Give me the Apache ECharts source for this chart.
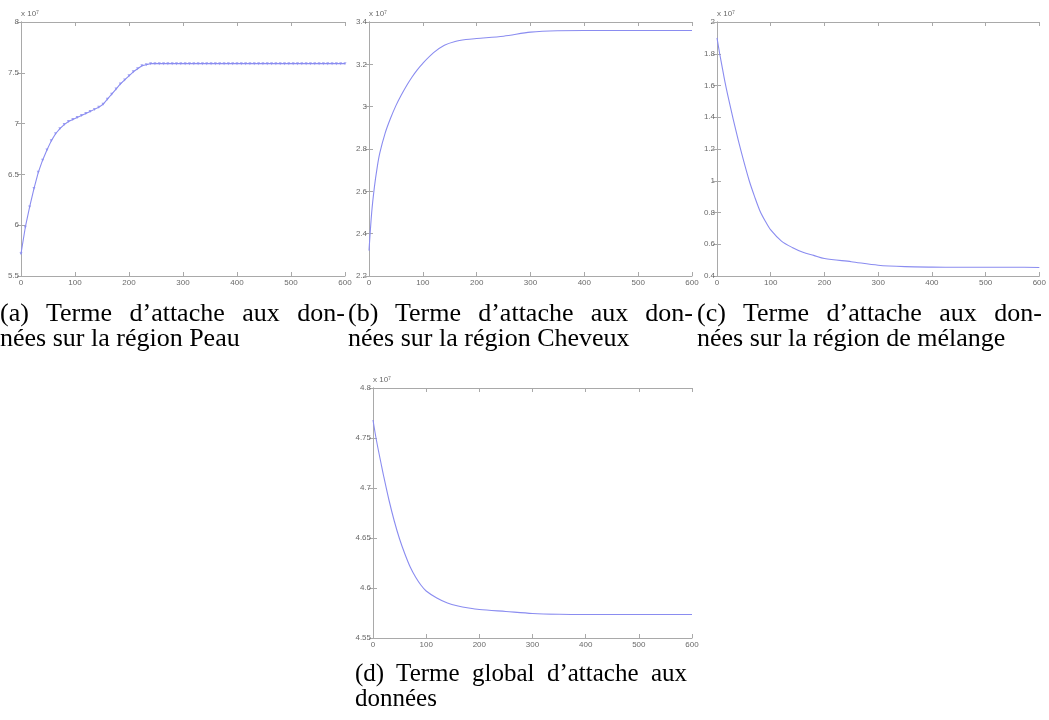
<!DOCTYPE html>
<html>
<head>
<meta charset="utf-8">
<title>Termes d'attache aux données</title>
<script src="https://cdn.jsdelivr.net/npm/echarts@6/dist/echarts.min.js"></script>
<style>
	body { margin: 0; background: #fff; }
	#main { position: absolute; left: 0; top: 0; width: 1049px; height: 720px; }
	.cap { position: absolute; font-family: "Liberation Serif", serif; font-size: 26px; line-height: 25px; color: #000; }
	.cap .l1 { text-align: justify; text-align-last: justify; }
</style>
</head>
<body>
<div id="main"></div>
<div class="cap" style="left:0px;top:300px;width:345px">
	<div class="l1">(a) Terme d’attache aux don-</div>
	<div>nées sur la région Peau</div>
</div>
<div class="cap" style="left:348px;top:300px;width:345px">
	<div class="l1">(b) Terme d’attache aux don-</div>
	<div>nées sur la région Cheveux</div>
</div>
<div class="cap" style="left:697px;top:300px;width:345px">
	<div class="l1">(c) Terme d’attache aux don-</div>
	<div>nées sur la région de mélange</div>
</div>
<div class="cap" style="left:355px;top:660px;width:332px;font-size:25px">
	<div class="l1">(d) Terme global d’attache aux</div>
	<div>données</div>
</div>
<script>
	// (a) region Peau, one sample every 8 iterations (x 10^7)
	var stepA = 8;
	var peau = [5.72, 5.98, 6.18, 6.36, 6.52, 6.64, 6.74, 6.83, 6.90, 6.95,
		6.99, 7.02, 7.04, 7.06, 7.08, 7.10, 7.12, 7.14, 7.16, 7.19,
		7.24, 7.29, 7.34, 7.39, 7.43, 7.47, 7.51, 7.54, 7.57, 7.58,
		7.59, 7.59, 7.59, 7.59, 7.59, 7.59, 7.59, 7.59, 7.59, 7.59,
		7.59, 7.59, 7.59, 7.59, 7.59, 7.59, 7.59, 7.59, 7.59, 7.59,
		7.59, 7.59, 7.59, 7.59, 7.59, 7.59, 7.59, 7.59, 7.59, 7.59,
		7.59, 7.59, 7.59, 7.59, 7.59, 7.59, 7.59, 7.59, 7.59, 7.59,
		7.59, 7.59, 7.59, 7.59, 7.59, 7.59];

	// iterations read for (b), (c), (d)
	var iters = [0, 5, 10, 15, 20, 30, 40, 50, 60, 70, 80, 90, 100, 120, 140, 160, 180, 200, 250, 300, 350, 400, 450, 500, 550, 600];
	// (b) region Cheveux
	var cheveux = [2.32, 2.50, 2.62, 2.71, 2.78, 2.875, 2.945, 3.005, 3.055, 3.10, 3.14, 3.175, 3.205, 3.255, 3.29, 3.308, 3.317, 3.322, 3.333, 3.352, 3.359, 3.36, 3.36, 3.36, 3.36, 3.36];
	// (c) region de melange
	var melange = [1.90, 1.80, 1.71, 1.62, 1.54, 1.39, 1.25, 1.12, 1.00, 0.90, 0.81, 0.745, 0.69, 0.62, 0.58, 0.55, 0.53, 0.51, 0.49, 0.468, 0.459, 0.456, 0.455, 0.455, 0.455, 0.454];
	// (d) terme global
	var globalT = [4.768, 4.752, 4.738, 4.725, 4.712, 4.688, 4.667, 4.649, 4.634, 4.621, 4.611, 4.603, 4.597, 4.590, 4.585, 4.582, 4.580, 4.5785, 4.5765, 4.5745, 4.5737, 4.5735, 4.5735, 4.5735, 4.5735, 4.5735];

	// y ranges [min, max, interval]
	var yA = [5.5, 8, 0.5];
	var yB = [2.2, 3.4, 0.2];
	var yC = [0.4, 2, 0.2];
	var yD = [4.55, 4.8, 0.05];

	var lineColor = '#8a8cf0';
	var frameColor = '#a9a9a9';
	var labelStyle = { color: '#6a6a6a', fontSize: 8, fontFamily: 'Liberation Sans' };

	var grids = [
		{ left: 21, top: 22, width: 324, height: 254 },
		{ left: 369, top: 22, width: 323, height: 254 },
		{ left: 717, top: 22, width: 325, height: 254 },
		{ left: 373, top: 388, width: 319, height: 250 }
	];
	var ranges = [yA, yB, yC, yD];

	function fmt(v) {
		return String(+v.toFixed(2));
	}

	var xAxes = [], yAxes = [];
	for (var i = 0; i < grids.length; i++) {
		var common = {
			gridIndex: i,
			type: 'value',
			axisLine: { show: true, lineStyle: { color: frameColor, width: 1 } },
			axisTick: { show: true, inside: true, length: 4, lineStyle: { color: frameColor } },
			splitLine: { show: false }
		};
		// bottom axis with labels
		xAxes.push(Object.assign({}, common, {
			position: 'bottom', min: 0, max: 600, interval: 100,
			axisLabel: Object.assign({ margin: 3 }, labelStyle)
		}));
		// top mirror, ticks only
		xAxes.push(Object.assign({}, common, {
			position: 'top', min: 0, max: 600, interval: 100,
			axisLabel: { show: false }
		}));
		var r = ranges[i];
		yAxes.push(Object.assign({}, common, {
			position: 'left', min: r[0], max: r[1], interval: r[2],
			axisLabel: Object.assign({ margin: 2, formatter: fmt }, labelStyle),
			name: 'x 10⁷', nameLocation: 'end', nameGap: 3,
			nameTextStyle: Object.assign({ align: 'left', verticalAlign: 'bottom', padding: [0, 0, 0, 0] }, labelStyle)
		}));
		yAxes.push(Object.assign({}, common, {
			position: 'right', min: r[0], max: r[1], interval: r[2],
			axisLabel: { show: false }
		}));
	}

	function pairs(xs, ys) {
		var out = [];
		for (var k = 0; k < ys.length; k++) {
			out.push([xs[k], ys[k]]);
		}
		return out;
	}

	var peauData = [];
	for (var j = 0; j < peau.length; j++) {
		peauData.push([j * stepA, peau[j]]);
	}

	var series = [
		{
			type: 'line', xAxisIndex: 0, yAxisIndex: 0, data: peauData,
			symbol: 'triangle', symbolRotate: 180, symbolSize: 3, showSymbol: true,
			itemStyle: { color: lineColor, opacity: 0.8 },
			lineStyle: { color: lineColor, width: 1.1 }
		},
		{
			type: 'line', xAxisIndex: 2, yAxisIndex: 2, data: pairs(iters, cheveux),
			smooth: 0.3, symbol: 'none',
			lineStyle: { color: lineColor, width: 1.1 }
		},
		{
			type: 'line', xAxisIndex: 4, yAxisIndex: 4, data: pairs(iters, melange),
			smooth: 0.3, symbol: 'none',
			lineStyle: { color: lineColor, width: 1.1 }
		},
		{
			type: 'line', xAxisIndex: 6, yAxisIndex: 6, data: pairs(iters, globalT),
			smooth: 0.3, symbol: 'none',
			lineStyle: { color: lineColor, width: 1.1 }
		}
	];

	var myChart = echarts.init(document.getElementById('main'), null, { renderer: 'canvas' });
	myChart.setOption({
		animation: false,
		backgroundColor: '#fff',
		grid: grids,
		xAxis: xAxes,
		yAxis: yAxes,
		series: series
	});
</script>
</body>
</html>
